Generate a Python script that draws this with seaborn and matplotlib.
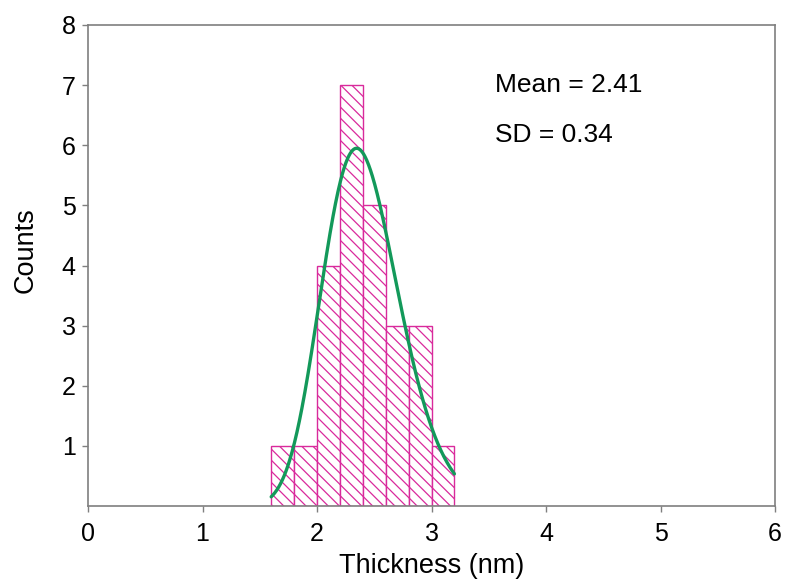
import numpy as np
import pandas as pd
import matplotlib
matplotlib.use("Agg")
import matplotlib.pyplot as plt
import seaborn as sns

# ---- data ----
bin_edges = [1.6, 1.8, 2.0, 2.2, 2.4, 2.6, 2.8, 3.0, 3.2]
counts = [1, 1, 4, 7, 5, 3, 3, 1]

# log-normal fit curve parameters
fit_peak = 5.95
fit_center = 2.346
fit_width = 0.1414
fit_range = (1.6, 3.2)

x_ticks = [0, 1, 2, 3, 4, 5, 6]
y_ticks = [1, 2, 3, 4, 5, 6, 7, 8]
stats_text = ["Mean = 2.41", "SD = 0.34"]

MAGENTA = "#D92A9C"
GREEN = "#13995A"
SPINE = "#7F7F7F"

sns.set_style("white")
plt.rcParams["font.family"] = ["Liberation Sans", "DejaVu Sans"]
plt.rcParams["hatch.linewidth"] = 0.9
plt.rcParams["text.color"] = "black"
plt.rcParams["axes.labelcolor"] = "black"

fig = plt.figure(figsize=(7.85, 5.79), dpi=100)
ax = fig.add_axes([88 / 785, 73 / 579, 687 / 785, 481 / 579])

centers = [(a + b) / 2 for a, b in zip(bin_edges[:-1], bin_edges[1:])]
hist_df = pd.DataFrame({"thickness": centers, "count": counts})
sns.histplot(data=hist_df, x="thickness", weights="count", bins=bin_edges,
             ax=ax, facecolor="white", edgecolor=MAGENTA, hatch="\\\\\\",
             linewidth=1.0, alpha=1.0)

xs = np.linspace(fit_range[0], fit_range[1], 300)
ys = fit_peak * np.exp(-(np.log(xs / fit_center)) ** 2 / (2 * fit_width ** 2))
curve_df = pd.DataFrame({"x": xs, "y": ys})
sns.lineplot(data=curve_df, x="x", y="y", ax=ax, color=GREEN, linewidth=2.4)

ax.set_xlim(0, 6)
ax.set_ylim(0, 8)
ax.set_xticks(x_ticks)
ax.set_yticks(y_ticks)
ax.set_xticklabels([str(t) for t in x_ticks])
ax.set_yticklabels([str(t) for t in y_ticks])

for s in ax.spines.values():
    s.set_visible(True)
    s.set_color(SPINE)
    s.set_linewidth(1.2)

ax.tick_params(axis="both", which="major", direction="out", length=4.3,
               width=1.0, color=SPINE, labelsize=18, labelcolor="black",
               bottom=True, left=True, top=False, right=False)
ax.tick_params(axis="x", pad=7)
ax.tick_params(axis="y", pad=4.5)

ax.set_xlabel("Thickness (nm)", fontsize=19.5, labelpad=5.5)
ax.set_ylabel("Counts", fontsize=19.5)
ax.yaxis.set_label_coords(-0.0713, 0.531)

ax.text(3.555, 6.89, stats_text[0], fontsize=19, va="baseline", ha="left")
ax.text(3.555, 6.06, stats_text[1], fontsize=19, va="baseline", ha="left")

fig.savefig("out.png", dpi=100)
